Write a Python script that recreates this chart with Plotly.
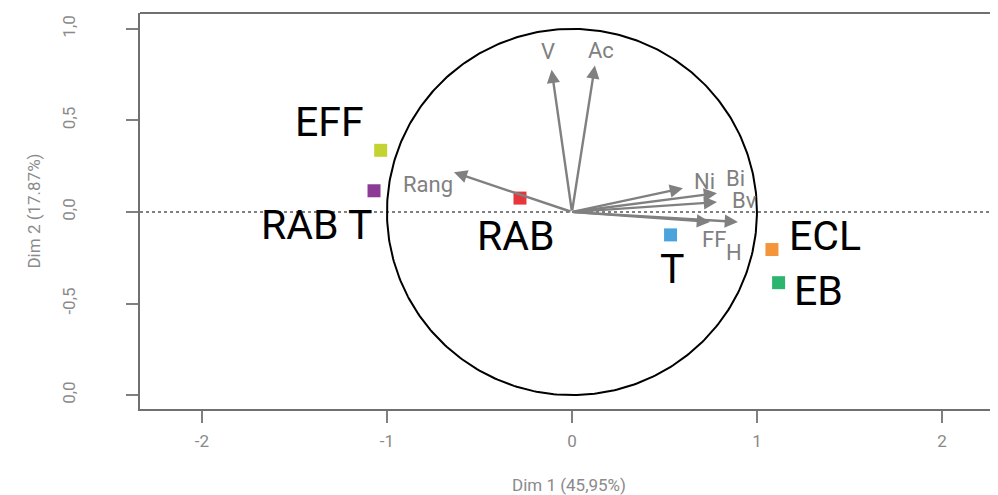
import plotly.graph_objects as go
import numpy as np

# ---- Data ----
var_names = ["V", "Ac", "Rang", "Ni", "Bi", "Bv", "FF", "H"]
var_x = [-0.11, 0.124, -0.638, 0.60, 0.784, 0.784, 0.746, 0.897]
var_y = [0.777, 0.80, 0.217, 0.13, 0.103, 0.054, -0.054, -0.054]

ind_names = ["EFF", "RAB T", "RAB", "T", "ECL", "EB"]
ind_x = [-1.034, -1.07, -0.281, 0.533, 1.081, 1.117]
ind_y = [0.337, 0.116, 0.076, -0.125, -0.205, -0.386]
ind_colors = ["#c3d332", "#8b3a96", "#e8353b", "#4aa3db", "#f4953a", "#2cb56e"]

x_ticks = [-2, -1, 0, 1, 2]
x_ticktext = ["-2", "-1", "0", "1", "2"]
y_ticks = [-1.0, -0.5, 0.0, 0.5, 1.0]
y_ticktext = ["0,0", "-0,5", "0,0", "0,5", "1,0"]

x_title = "Dim 1 (45,95%)"
y_title = "Dim 2 (17.87%)"

# ---- Layout / style ----
var_label_shift = {  # pixel offsets (dx, dy up)
    "V": (-4, 18), "Ac": (6, 15), "Rang": (-26, -12), "Ni": (22, 7),
    "Bi": (19, 15), "Bv": (28, 2), "FF": (4, -18), "H": (-4, -31),
}
ind_label_shift = {
    "EFF": (-51, 28), "RAB T": (-58, -34), "RAB": (-4, -38),
    "T": (1, -34), "ECL": (53, 14), "EB": (40, -8),
}

FONT = "Roboto"
GRAY = "#808080"
TICK_GRAY = "#8a8a8a"
FRAME = "#707070"

xr = [-2.335, 2.303]
yr = [-1.076, 1.087]

fig = go.Figure()

# unit circle
t = np.linspace(0, 2 * np.pi, 400)
fig.add_trace(go.Scatter(x=np.cos(t), y=np.sin(t), mode="lines",
                         line=dict(color="black", width=2), hoverinfo="skip",
                         showlegend=False))

# individuals
fig.add_trace(go.Scatter(x=ind_x, y=ind_y, mode="markers",
                         marker=dict(symbol="square", size=13, color=ind_colors),
                         showlegend=False, text=ind_names))

annotations = []
for n, x, y in zip(var_names, var_x, var_y):
    annotations.append(dict(x=x, y=y, ax=0, ay=0, xref="x", yref="y",
                            axref="x", ayref="y", text="", showarrow=True,
                            arrowhead=2, arrowsize=1.1, arrowwidth=2.4,
                            arrowcolor=GRAY))
    dx, dy = var_label_shift[n]
    annotations.append(dict(x=x, y=y, xref="x", yref="y", text=n,
                            showarrow=False, xshift=dx, yshift=dy,
                            font=dict(family=FONT, size=22, color=GRAY)))
for n, x, y in zip(ind_names, ind_x, ind_y):
    dx, dy = ind_label_shift[n]
    annotations.append(dict(x=x, y=y, xref="x", yref="y", text=n,
                            showarrow=False, xshift=dx, yshift=dy,
                            font=dict(family=FONT, size=41, color="black")))

shapes = [
    # dotted zero line
    dict(type="line", xref="paper", yref="y", x0=0, x1=1, y0=0, y1=0,
         line=dict(color=GRAY, width=2, dash="dot"), layer="below"),
    # top frame line
    dict(type="line", xref="paper", yref="paper", x0=0, x1=1, y0=1, y1=1,
         line=dict(color=FRAME, width=2)),
]

fig.update_layout(
    width=990, height=487,
    margin=dict(l=132, r=0, t=5, b=84),
    plot_bgcolor="white", paper_bgcolor="white",
    annotations=annotations, shapes=shapes,
    font=dict(family=FONT, color=GRAY),
    xaxis=dict(range=xr, tickvals=x_ticks, ticktext=x_ticktext,
               showgrid=False, zeroline=False, showline=True,
               linecolor=FRAME, linewidth=2, ticks="outside", ticklen=12,
               tickwidth=1.5, tickcolor=GRAY, ticklabelstandoff=4,
               tickfont=dict(family=FONT, size=17, color=TICK_GRAY),
               title=dict(text=x_title, font=dict(family=FONT, size=17, color=TICK_GRAY),
                          standoff=32)),
    yaxis=dict(range=yr, tickvals=y_ticks, ticktext=y_ticktext,
               showgrid=False, zeroline=False, showline=True,
               linecolor=FRAME, linewidth=2, ticks="outside", ticklen=12,
               tickwidth=1.5, tickcolor=GRAY, tickangle=-90,
               ticklabelstandoff=44,
               tickfont=dict(family=FONT, size=17, color=TICK_GRAY),
               title=dict(text=y_title, font=dict(family=FONT, size=17, color=TICK_GRAY),
                          standoff=14)),
)

fig.write_html("out.html")
